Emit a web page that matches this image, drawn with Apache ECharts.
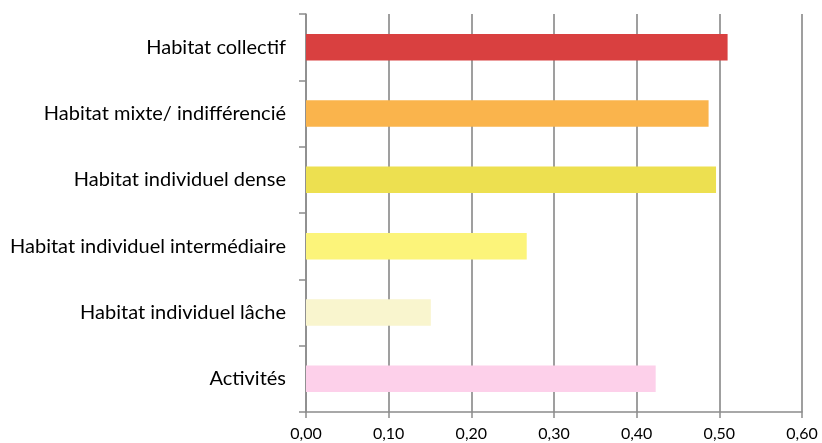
<!DOCTYPE html>
<html><head><meta charset="utf-8">
<script src="https://cdn.jsdelivr.net/npm/echarts@6/dist/echarts.min.js"></script>
<style>html,body{margin:0;padding:0;background:#fff}#c{width:822px;height:443px}</style>
</head><body><div id="c"></div>
<script>
const categories = ["Habitat collectif","Habitat mixte/ indifférencié","Habitat individuel dense","Habitat individuel intermédiaire","Habitat individuel lâche","Activités"];
const values = [0.510, 0.487, 0.496, 0.267, 0.151, 0.423];
const colors = ["#D94040","#FAB44C","#EDE050","#FCF47A","#F9F5CE","#FDD0EA"];
const xTicks = [0, 0.6, 0.1];
const chart = echarts.init(document.getElementById('c'), null, {renderer:'canvas'});
chart.setOption({
  animation:false,
  grid:{left:306,right:20,top:14,bottom:31,containLabel:false},
  xAxis:{type:'value',min:xTicks[0],max:xTicks[1],interval:xTicks[2],
    axisLine:{show:true,lineStyle:{color:'#8c8c8c',width:1.5}},
    axisTick:{show:true,length:6,lineStyle:{color:'#8c8c8c',width:1.5}},
    splitLine:{show:true,lineStyle:{color:'#959595',width:1.8}},
    axisLabel:{formatter:v=>v.toFixed(2).replace('.',','),color:'#000',fontFamily:'Lato',fontSize:16,margin:14}},
  yAxis:{type:'category',data:categories,inverse:true,
    axisLine:{show:true,lineStyle:{color:'#8c8c8c',width:1.5}},
    axisTick:{show:true,length:7,lineStyle:{color:'#8c8c8c',width:1.5}},
    splitLine:{show:false},
    axisLabel:{color:'#000',fontFamily:'Lato',fontSize:20,margin:20}},
  series:[{type:'bar',barWidth:'40%',
    data:values.map((v,i)=>({value:v,itemStyle:{color:colors[i]}}))}]
});
</script></body></html>
